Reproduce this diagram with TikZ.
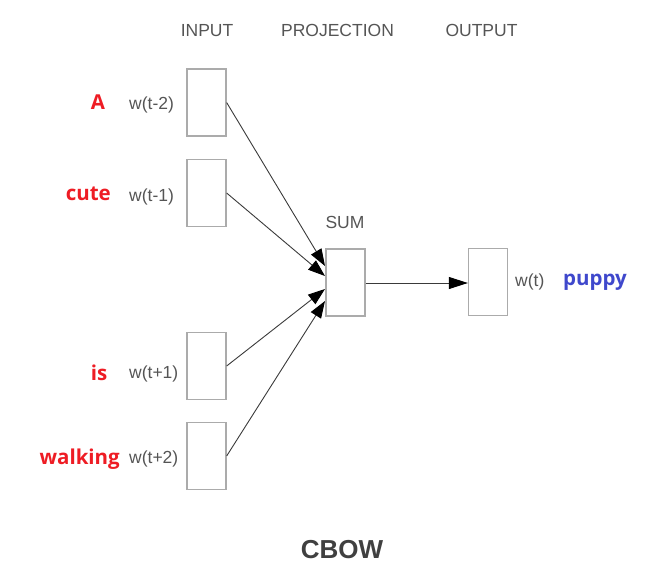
\documentclass[tikz,border=0pt]{standalone}
\usepackage{fontspec}
\setmainfont{Liberation Sans}
\newfontfamily\wordfont{Open Sans}[BoldFont={* Bold}]
\usetikzlibrary{arrows.meta}
\definecolor{lblgray}{HTML}{555555}
\definecolor{boxgray}{HTML}{ABABAB}
\definecolor{linegray}{HTML}{3A3A3A}
\definecolor{wordred}{HTML}{EE1C24}
\definecolor{wordblue}{HTML}{3F48CC}
\tikzset{
  vecbox/.style={draw=boxgray, line width=1.3pt, minimum width=39pt, minimum height=67pt, inner sep=0pt},
  lbl/.style={text=lblgray, font=\fontsize{17.5}{20}\selectfont, inner sep=0pt, anchor=base},
  word/.style={font=\wordfont\bfseries\fontsize{20.5}{24}\selectfont, inner sep=0pt, anchor=base},
  conn/.style={draw=linegray, line width=0.9pt, -{Triangle[length=17pt,width=12pt,color=black]}},
  outconn/.style={draw=linegray, line width=0.9pt, -{Triangle[length=19pt,width=12pt,color=black]}}
}
\begin{document}
\begin{tikzpicture}[x=1pt,y=-1pt]
\useasboundingbox (0,0) rectangle (651,581);
% headers
\node[lbl] (hin) at (207,36) {INPUT};
\node[lbl] (hproj) at (337.5,36) {PROJECTION};
\node[lbl] (hout) at (481.5,36) {OUTPUT};
% input boxes
\node[vecbox] (in1) at (206.5,102.5) {};
\node[vecbox] (in2) at (206.5,193) {};
\node[vecbox] (in3) at (206.5,366) {};
\node[vecbox] (in4) at (206.5,456) {};
% sum and output
\node[vecbox] (sum) at (345.5,282.5) {};
\node[lbl] (sumlbl) at (345,228) {SUM};
\node[vecbox] (out) at (488,282) {};
% input labels
\node[lbl, anchor=base west] (l1) at (129,109) {w(t-2)};
\node[lbl, anchor=base west] (l2) at (129,201) {w(t-1)};
\node[lbl, anchor=base west] (l3) at (129,378) {w(t+1)};
\node[lbl, anchor=base west] (l4) at (129,463) {w(t+2)};
\node[lbl, anchor=base west] (lo) at (515,286) {w(t)};
% words
\node[word, text=wordred] (w1) at (98,109) {A};
\node[word, text=wordred, anchor=base east] (w2) at (111,200) {cute};
\node[word, text=wordred] (w3) at (99,380) {is};
\node[word, text=wordred, anchor=base east] (w4) at (120,464) {walking};
\node[word, text=wordblue, anchor=base west] (w5) at (563,285) {puppy};
% arrow tips on sum box
\coordinate (t1) at (325,266);
\coordinate (t2) at (325,276);
\coordinate (t3) at (325,289);
\coordinate (t4) at (325,301);
\draw[conn] (in1.east) -- (t1);
\draw[conn] (in2.east) -- (t2);
\draw[conn] (in3.east) -- (t3);
\draw[conn] (in4.east) -- (t4);
\draw[outconn] (sum.east |- 0,283) -- (out.west |- 0,283);
% title
\node[lbl, text=black!75, font=\bfseries\fontsize{26}{30}\selectfont] (title) at (342,558) {CBOW};
\end{tikzpicture}
\end{document}
